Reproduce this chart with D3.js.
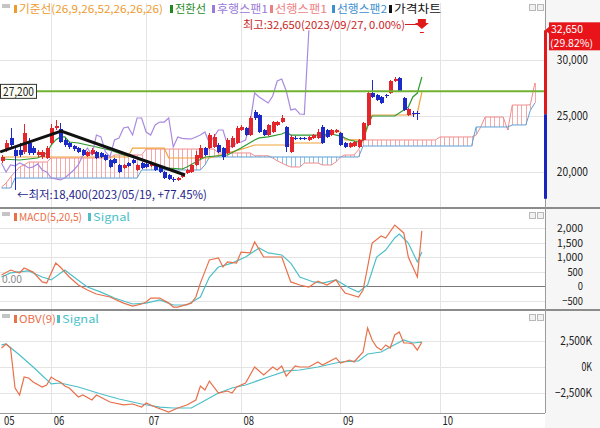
<!DOCTYPE html>
<html>
<head>
<meta charset="utf-8">
<script src="https://cdn.jsdelivr.net/npm/d3@7"></script>
<style>
  body { margin: 0; background: #fff; }
  svg text { font-family: "Noto Sans CJK KR", "Noto Sans", sans-serif; }
</style>
</head>
<body>
<div id="chart"></div>
<script>
// ---- data ----
const monthIdx = [0, 11, 32, 53, 75, 97];
const monthLabels = ['05', '06', '07', '08', '09', '10'];

const opens = [20980,21960,23040,21960,21960,21790,22590,22140,21520,21340,21250,22590,23930,23840,22860,22590,22320,22140,21960,21430,
  21610,21790,21700,21520,21070,21160,20630,20360,20800,21070,20180,20800,20720,20540,20630,20450,20000,19730,19370,19290,
  19550,19910,20000,20630,21250,22140,22140,22230,22410,22140,21700,22230,22590,23750,23930,23300,25360,25090,23750,23300,
  23570,24200,24460,24020,21790,23080,23040,23040,22860,23040,23040,24020,23750,23300,23570,23480,22590,22230,22320,22230,
  22860,24200,27050,26880,26700,26880,27050,28120,28390,26610,25090,25270,25270];
const highs = [21520,22860,23930,22140,22590,24290,23040,22320,21960,21960,22320,24290,24640,24380,23040,22680,22410,22230,22050,21880,
  22140,21880,21790,21610,21160,21250,20720,20720,20890,21160,20720,20890,20800,20800,20720,20540,20090,19820,19550,19550,
  19910,20270,20720,21880,22410,22230,23480,23390,22590,22230,23040,23210,24110,24200,24020,25000,25540,25180,23840,24290,
  24550,24550,25090,24110,23300,23210,23130,23130,23210,23390,23840,24200,23840,23840,23840,23570,22680,22680,22770,22950,
  24460,27140,28210,26970,26790,26970,28210,28480,28480,26700,25720,25450,25450];
const lows = [20800,21790,22230,18400,21340,21610,21520,21520,21340,21160,21160,22410,23750,22590,22230,22050,21880,21700,21430,21340,
  21520,21160,21250,20980,20360,20720,19910,20270,20450,20720,20090,20270,20360,20450,20090,19910,19380,19290,19110,19200,
  19460,19820,19910,20540,21160,21430,22050,22140,21700,21070,21610,22140,22500,23660,23210,23210,24640,23480,23210,23210,
  23480,24110,24380,21790,21700,22860,22860,22860,22770,22950,22950,22500,23040,23210,23480,22320,22140,22140,22230,22140,
  22770,24110,26610,26340,26070,26610,26970,28030,27140,25450,25000,24900,24640];
const closes = [21340,22590,22410,21430,21520,23480,21700,21700,21790,21800,22140,23930,24110,22680,22410,22230,22050,21790,21520,21790,
  21960,21250,21340,21070,20450,20800,20000,20630,20540,20800,20630,20360,20450,20720,20180,20000,19460,19380,19290,19460,
  19820,20180,20630,21520,22140,21520,23300,23130,21790,21340,22860,23040,23930,24020,23300,24820,24820,23570,23300,24200,
  24460,24460,24820,22230,23130,23000,22950,22950,23130,23300,23570,22590,23130,23750,23750,22410,22230,22590,22680,22860,
  24380,27050,26700,26430,26160,26790,28120,28300,27230,25540,25630,25180,25150,32650];

const prevClose = 25150, upperLimit = 32650, lowerLimit = 17610, hLine = 27200;

// 전환선 / 기준선 (bar index, price)
const tenkanIdx = [0,4,8,10,11,12,13,14,15,17,19,22,24,27,30,33,36,40,41,43,45,50,53,56,57,59,62,63,64,71,73,75,77,79,80,81,82,87,89,90,91,92,93];
const tenkanVal = [21160,21070,21250,21700,22410,22860,23130,23130,22680,22590,22410,22140,21960,21520,21250,20890,20360,20270,20450,20890,21340,21520,22140,22860,23040,23130,23390,23570,23300,23300,23390,23210,22860,22680,22860,24200,25000,25000,25540,25800,26700,27050,28480];
const kijunIdx = [0,28,29,36,37,46,51,54,56,64,65,71,72,75,76,80,81,82,91,92,93];
const kijunVal = [21340,21340,22140,22140,21250,21250,21790,22140,22410,22410,22590,22590,23570,23570,22860,22860,24020,25090,25090,25270,27140];

// 선행스팬1 / 선행스팬2, one value per bar (already shifted forward)
const span1 = [18660,19000,19550,20000,20450,20630,20890,20890,20890,20890,20890,
  21250,21250,21250,21250,21250,21250,21250,21250,21250,21250,21250,21250,21250,21250,
  21520,21520,21520,21520,21520,21520,21520,
  22050,22050,22050,22050,22050,22050,22050,22050,22050,22050,22050,22050,22050,22050,22050,22050,
  21700,21700,21700,21700,21700,21700,21700,21700,
  21450,21450,21450,21450,21250,21000,20800,20600,20450,20450,20450,
  20800,20800,20800,20800,20630,20630,20630,20900,21340,21520,21520,21520,22000,
  22860,22860,22860,22860,22860,22860,22860,22860,22860,22860,22860,22860,22860,22860,22860,22860,22860,
  23130,23130,23130,23130,23130,23130,23130,23130,23300,24000,
  24910,24910,24910,24910,24910,23750,25980,25980,25980,25980,26000,27950];
const span2 = [18570,18570,18570,
  19460,19460,19460,19460,19460,19460,19460,19460,19460,19460,19460,19460,19460,19460,
  19460,19460,19460,19460,19460,19460,19460,19460,19460,19460,19460,19460,19460,19460,
  20180,20180,20180,20180,20180,20180,20180,20180,20180,20180,20180,20180,20180,20180,20630,
  21340,21340,21340,21340,21340,21340,21340,21340,21340,21340,21340,21340,21340,21340,21340,21340,21340,
  21340,21340,21340,21340,21340,21340,21340,21340,21340,21340,21340,21340,21340,21340,21340,21340,21340,
  22320,22320,22320,22320,22320,22320,22320,22320,22320,22320,22320,22320,22320,
  22320,22320,22320,22320,22320,22320,22320,22320,22320,22320,22320,22320,
  24020,24020,24020,24020,24020,24020,24020,24020,24200,24200,24200,24200,25500,26160];

const trendIdx = [-0.3, 13.2, 40.6];
const trendVal = [21790, 23660, 19730];

// MACD(5,20,5)
const macdIdx = [0,2,4,5,7,9,10,12,13,15,17,19,21,24,27,29,31,32,33,35,37,38,39,42,43,44,46,48,49,50,52,53,55,56,58,62,64,66,68,70,72,74,75,76,79,80,81,82,84,85,87,89,90,92,93];
const macdVal = [380,550,450,620,480,140,100,790,655,310,35,-140,-275,-380,-590,-690,-620,-550,-415,-415,-590,-725,-725,-590,-380,100,900,965,655,830,790,1170,1140,1520,1000,1000,140,35,-35,170,35,210,-35,-240,-380,-140,655,1480,1725,1655,2100,1830,1000,310,1900];
const sigIdx = [0,2,6,9,11,14,16,19,22,25,29,32,35,38,41,44,46,48,51,54,57,59,62,64,66,69,71,74,77,79,81,83,85,87,88,90,92,93];
const sigVal = [310,450,520,310,210,550,310,-35,-210,-415,-620,-590,-480,-655,-655,-380,310,655,790,1000,1310,1140,1070,790,310,140,100,210,-70,-210,35,1000,1240,1655,1790,1480,830,1170];

// OBV(9), in thousands
const obvIdx = [0,1,2,3,4,5,6,7,9,10,11,12,13,14,15,17,18,20,21,24,27,29,31,32,34,37,39,41,43,44,45,46,48,50,51,52,54,56,58,60,61,62,63,65,66,68,70,71,74,75,77,78,80,81,82,83,84,85,86,87,88,89,90,91,92,93];
const obvVal = [1830,2210,1830,-2020,-2690,-960,-1060,-1440,-1920,-1730,-960,-1250,-1440,-1830,-2020,-2880,-2690,-3170,-2690,-3370,-3650,-3560,-3850,-3460,-3850,-4330,-3940,-3650,-3170,-1830,-2210,-1350,-2500,-2310,-2500,-1920,-1540,0,-770,0,-290,100,-870,100,0,0,480,190,870,380,670,480,1440,3750,2600,1920,1630,2120,1830,3080,3370,2310,2310,2210,1630,2400];
const obvSigIdx = [0,1,4,7,11,13,17,22,26,31,35,38,42,44,48,51,54,59,63,66,70,75,79,81,84,86,89,91,93];
const obvSigVal = [2120,2210,1150,0,-1630,-1540,-1920,-2600,-3080,-3560,-3850,-3940,-3940,-3460,-2500,-2020,-1730,-960,-380,-290,0,480,580,1250,1440,1920,2600,2310,2400];

const priceTicks = [20000, 25000, 30000];
const macdTicks = [-500, 0, 500, 1000, 1500, 2000];
const obvTicks = [-2500, 0, 2500];

// ---- layout ----
const W = 600, H = 428, plotR = 545;
const panels = { price: [3, 208], macd: [209, 310], obv: [311, 413] };

const RED = '#e3262b', BLUE = '#1c2bc8';

const svg = d3.select('#chart').append('svg').attr('width', W).attr('height', H);

const x = d3.scaleLinear().domain([0, 118]).range([1.5, 1.5 + 118 * 4.52]);
const yP = d3.scaleLinear().domain([20000, 30000]).range([172, 60]);
const yM = d3.scaleLinear().domain([0, 2000]).range([286, 228]);
const yO = d3.scaleLinear().domain([0, 2500]).range([367, 341]);

// axis strip background
svg.append('rect').attr('x', plotR).attr('y', 0).attr('width', W - plotR).attr('height', H).attr('fill', '#f6f6f6');

const defs = svg.append('defs');
Object.entries(panels).forEach(([k, [t, b]]) => {
  defs.append('clipPath').attr('id', 'clip-' + k)
    .append('rect').attr('x', 0).attr('y', t).attr('width', plotR).attr('height', b - t);
});

// grid
const grid = svg.append('g').attr('shape-rendering', 'crispEdges');
grid.selectAll('line.v').data(monthIdx.slice(1)).enter().append('line')
  .attr('x1', d => Math.round(x(d)) + 0.5).attr('x2', d => Math.round(x(d)) + 0.5)
  .attr('y1', 3).attr('y2', 413).attr('stroke', '#e4e4e4');
grid.selectAll('line.hp').data(priceTicks).enter().append('line')
  .attr('x1', 0).attr('x2', plotR).attr('y1', d => Math.round(yP(d)) + 0.5).attr('y2', d => Math.round(yP(d)) + 0.5)
  .attr('stroke', '#e4e4e4');
grid.selectAll('line.hm').data(macdTicks).enter().append('line')
  .attr('x1', 0).attr('x2', plotR).attr('y1', d => Math.round(yM(d)) + 0.5).attr('y2', d => Math.round(yM(d)) + 0.5)
  .attr('stroke', d => d === 0 ? '#7a7a7a' : '#e4e4e4');
grid.selectAll('line.ho').data(obvTicks).enter().append('line')
  .attr('x1', 0).attr('x2', plotR).attr('y1', d => Math.round(yO(d)) + 0.5).attr('y2', d => Math.round(yO(d)) + 0.5)
  .attr('stroke', '#e4e4e4');

// ---- price panel ----
const gp = svg.append('g').attr('clip-path', 'url(#clip-price)');

// cloud hatch
gp.append('g').attr('shape-rendering', 'crispEdges').selectAll('line').data(span1).enter().append('line')
  .attr('x1', (d, i) => Math.round(x(i)) + 0.5).attr('x2', (d, i) => Math.round(x(i)) + 0.5)
  .attr('y1', d => yP(d)).attr('y2', (d, i) => yP(span2[i]))
  .attr('stroke', (d, i) => d >= span2[i] ? '#f6a8a8' : '#8cc3e8');

const line = d3.line();
gp.append('path').attr('d', line(span1.map((v, i) => [x(i), yP(v)])))
  .attr('fill', 'none').attr('stroke', '#f08c8c').attr('stroke-width', 1);
gp.append('path').attr('d', line(span2.map((v, i) => [x(i), yP(v)])))
  .attr('fill', 'none').attr('stroke', '#5a9fd6').attr('stroke-width', 1);

// 기준선, 전환선
gp.append('path').attr('d', line(kijunIdx.map((k, i) => [x(k), yP(kijunVal[i])])))
  .attr('fill', 'none').attr('stroke', '#f0a23a').attr('stroke-width', 1.2);
gp.append('path').attr('d', line(tenkanIdx.map((k, i) => [x(k), yP(tenkanVal[i])])))
  .attr('fill', 'none').attr('stroke', '#2e9a2e').attr('stroke-width', 1.2);

// 후행스팬 (close shifted back 25 bars)
const lag = closes.map((c, k) => [k - 25, c]).filter(d => d[0] >= 0);
gp.append('path').attr('d', line(lag.map(d => [x(d[0]), yP(d[1])])))
  .attr('fill', 'none').attr('stroke', '#a98ae0').attr('stroke-width', 1.2);

// candles
const cg = gp.append('g').attr('shape-rendering', 'crispEdges');
const cd = opens.map((o, i) => ({ i, o, h: highs[i], l: lows[i], c: closes[i] }));
cg.selectAll('line').data(cd).enter().append('line')
  .attr('x1', d => Math.round(x(d.i)) + 0.5).attr('x2', d => Math.round(x(d.i)) + 0.5)
  .attr('y1', d => yP(d.h)).attr('y2', d => yP(d.l))
  .attr('stroke', d => d.c >= d.o ? RED : BLUE);
cg.selectAll('rect').data(cd).enter().append('rect')
  .attr('x', d => Math.round(x(d.i)) - 1).attr('width', 4)
  .attr('y', d => yP(Math.max(d.o, d.c)))
  .attr('height', d => Math.max(1, Math.abs(yP(d.o) - yP(d.c))))
  .attr('fill', d => d.c >= d.o ? RED : BLUE);

// trend line
gp.append('path').attr('d', line(trendIdx.map((k, i) => [x(k), yP(trendVal[i])])))
  .attr('fill', 'none').attr('stroke', '#111').attr('stroke-width', 3);

// horizontal level
gp.append('line').attr('x1', 0).attr('x2', plotR).attr('y1', yP(hLine)).attr('y2', yP(hLine))
  .attr('stroke', '#72b232').attr('stroke-width', 2);
svg.append('rect').attr('x', 0.5).attr('y', yP(hLine) - 7).attr('width', 36).attr('height', 14)
  .attr('fill', '#fbfdf4').attr('stroke', '#333');
svg.append('text').attr('x', 3).attr('y', yP(hLine) + 4.5).attr('font-size', 12).attr('fill', '#222')
  .attr('textLength', 31).attr('lengthAdjust', 'spacingAndGlyphs').text('27,200');

// ---- MACD ----
const gm = svg.append('g').attr('clip-path', 'url(#clip-macd)');
gm.append('path').attr('d', line(sigIdx.map((k, i) => [x(k), yM(sigVal[i])])))
  .attr('fill', 'none').attr('stroke', '#4dbfc7').attr('stroke-width', 1.2);
gm.append('path').attr('d', line(macdIdx.map((k, i) => [x(k), yM(macdVal[i])])))
  .attr('fill', 'none').attr('stroke', '#e8704a').attr('stroke-width', 1.2);
svg.append('text').attr('x', 2).attr('y', yM(0) - 3).attr('font-size', 11).attr('fill', '#8a8a8a')
  .attr('textLength', 20).attr('lengthAdjust', 'spacingAndGlyphs').text('0.00');

// ---- OBV ----
const go = svg.append('g').attr('clip-path', 'url(#clip-obv)');
go.append('path').attr('d', line(obvSigIdx.map((k, i) => [x(k), yO(obvSigVal[i])])))
  .attr('fill', 'none').attr('stroke', '#4dbfc7').attr('stroke-width', 1.2);
go.append('path').attr('d', line(obvIdx.map((k, i) => [x(k), yO(obvVal[i])])))
  .attr('fill', 'none').attr('stroke', '#e8704a').attr('stroke-width', 1.2);

// ---- frames ----
const fr = svg.append('g').attr('shape-rendering', 'crispEdges');
[208, 310].forEach(yy => fr.append('line').attr('x1', 0).attr('x2', W).attr('y1', yy).attr('y2', yy)
  .attr('stroke', '#8c8c8c').attr('stroke-width', 2));
fr.append('line').attr('x1', 0).attr('x2', plotR).attr('y1', 413.5).attr('y2', 413.5).attr('stroke', '#9a9a9a');
fr.append('line').attr('x1', plotR + 0.5).attr('x2', plotR + 0.5).attr('y1', 0).attr('y2', 413).attr('stroke', '#9a9a9a');

// panel icons
[3, 211, 313].forEach(t => {
  fr.append('rect').attr('x', 2).attr('y', t + 1).attr('width', 8).attr('height', 4).attr('fill', '#c4c4c4');
  [529, 537].forEach(xx => fr.append('rect').attr('x', xx + 0.5).attr('y', t + 1.5).attr('width', 6).attr('height', 6)
    .attr('fill', '#f2f2f2').attr('stroke', '#b8b8b8'));
});

// ---- axes ----
function styleAxis(g, w, fs) {
  g.select('.domain').remove();
  g.selectAll('text').attr('font-size', fs).attr('fill', '#222')
    .attr('font-family', '"Liberation Sans", sans-serif')
    .each(function () { d3.select(this).attr('textLength', this.textContent.length * w).attr('lengthAdjust', 'spacingAndGlyphs'); });
}
svg.append('g').attr('transform', 'translate(588,0)')
  .call(d3.axisLeft(yP).tickValues(priceTicks).tickSize(0).tickPadding(0).tickFormat(d3.format(',')))
  .call(g => styleAxis(g, 5.2, 12));
svg.append('g').attr('transform', 'translate(583,0)')
  .call(d3.axisLeft(yM).tickValues(macdTicks).tickSize(0).tickPadding(0).tickFormat(d3.format(',')))
  .call(g => styleAxis(g, 5.2, 11));
svg.append('g').attr('transform', 'translate(592,0)')
  .call(d3.axisLeft(yO).tickValues(obvTicks).tickSize(0).tickPadding(0).tickFormat(d => d3.format(',')(d) + 'K'))
  .call(g => styleAxis(g, 5.3, 12));
svg.append('g').attr('transform', 'translate(0,413)')
  .call(d3.axisBottom(x).tickValues(monthIdx).tickSize(0).tickPadding(3).tickFormat((d, i) => monthLabels[i]))
  .call(g => { styleAxis(g, 5.3, 12); g.selectAll('text').attr('text-anchor', 'start').attr('dx', 2); });

// current price marker on axis
const mk = svg.append('g');
mk.append('rect').attr('x', plotR - 1).attr('width', 3).attr('y', yP(upperLimit)).attr('height', yP(prevClose) - yP(upperLimit)).attr('fill', '#e01a1a');
mk.append('rect').attr('x', plotR - 1).attr('width', 3).attr('y', yP(prevClose)).attr('height', yP(lowerLimit) - yP(prevClose)).attr('fill', '#1a22c0');
mk.append('path').attr('d', `M${plotR},${yP(upperLimit)} l6,-5 l0,10 z`).attr('fill', '#e01a1a');
mk.append('rect').attr('x', 549).attr('y', yP(upperLimit) - 8).attr('width', 51).attr('height', 28).attr('fill', '#e8141a');
mk.append('text').attr('x', 551).attr('y', yP(upperLimit) + 3).attr('font-size', 10).attr('fill', '#fff')
  .attr('font-family', '"Liberation Sans", sans-serif').attr('textLength', 32).attr('lengthAdjust', 'spacingAndGlyphs').text(d3.format(',')(upperLimit));
mk.append('text').attr('x', 550).attr('y', yP(upperLimit) + 17).attr('font-size', 10).attr('fill', '#fff')
  .attr('font-family', '"Liberation Sans", sans-serif').attr('textLength', 43).attr('lengthAdjust', 'spacingAndGlyphs').text('(29.82%)');

// ---- legends ----
function legend(items, yy) {
  items.forEach(it => {
    svg.append('rect').attr('x', it.x).attr('y', yy - 8).attr('width', 3).attr('height', 8).attr('fill', it.c);
    svg.append('text').attr('x', it.x + 5).attr('y', yy).attr('font-size', 11).attr('fill', it.c)
      .attr('textLength', it.w).attr('lengthAdjust', 'spacingAndGlyphs').text(it.t);
  });
}
legend([
  { t: '기준선(26,9,26,52,26,26,26)', c: '#ee9b2e', x: 14, w: 144 },
  { t: '전환선', c: '#1f8a1f', x: 170, w: 31 },
  { t: '후행스팬1', c: '#9a7ad8', x: 212, w: 51 },
  { t: '선행스팬1', c: '#ee7f84', x: 270, w: 52 },
  { t: '선행스팬2', c: '#3d8fcf', x: 332, w: 50 },
  { t: '가격차트', c: '#111', x: 389, w: 47 }
], 13);
legend([
  { t: 'MACD(5,20,5)', c: '#e8704a', x: 14, w: 63 },
  { t: 'Signal', c: '#4dbfc7', x: 88, w: 37 }
], 221);
legend([
  { t: 'OBV(9)', c: '#e8704a', x: 14, w: 37 },
  { t: 'Signal', c: '#4dbfc7', x: 57, w: 37 }
], 323);

// high / low notes
svg.append('text').attr('x', 243).attr('y', 29).attr('font-size', 11).attr('fill', '#c81e1e')
  .attr('textLength', 162).attr('lengthAdjust', 'spacingAndGlyphs').text('최고:32,650(2023/09/27, 0.00%)');
svg.append('line').attr('x1', 405).attr('x2', 420).attr('y1', 24.5).attr('y2', 24.5).attr('stroke', '#c81e1e');
svg.append('path').attr('d', `M${x(93) - 4},19 h8 v4 h3 l-7,6 l-7,-6 h3 z`).attr('fill', '#e01a1a');
svg.append('line').attr('x1', x(93) - 2).attr('x2', x(93) + 2).attr('y1', 32.5).attr('y2', 32.5).attr('stroke', '#e01a1a');

svg.append('text').attr('x', 17).attr('y', 199).attr('font-size', 11.5).attr('fill', '#26268a')
  .attr('textLength', 190).attr('lengthAdjust', 'spacingAndGlyphs').text('←최저:18,400(2023/05/19, +77.45%)');
</script>
</body>
</html>
